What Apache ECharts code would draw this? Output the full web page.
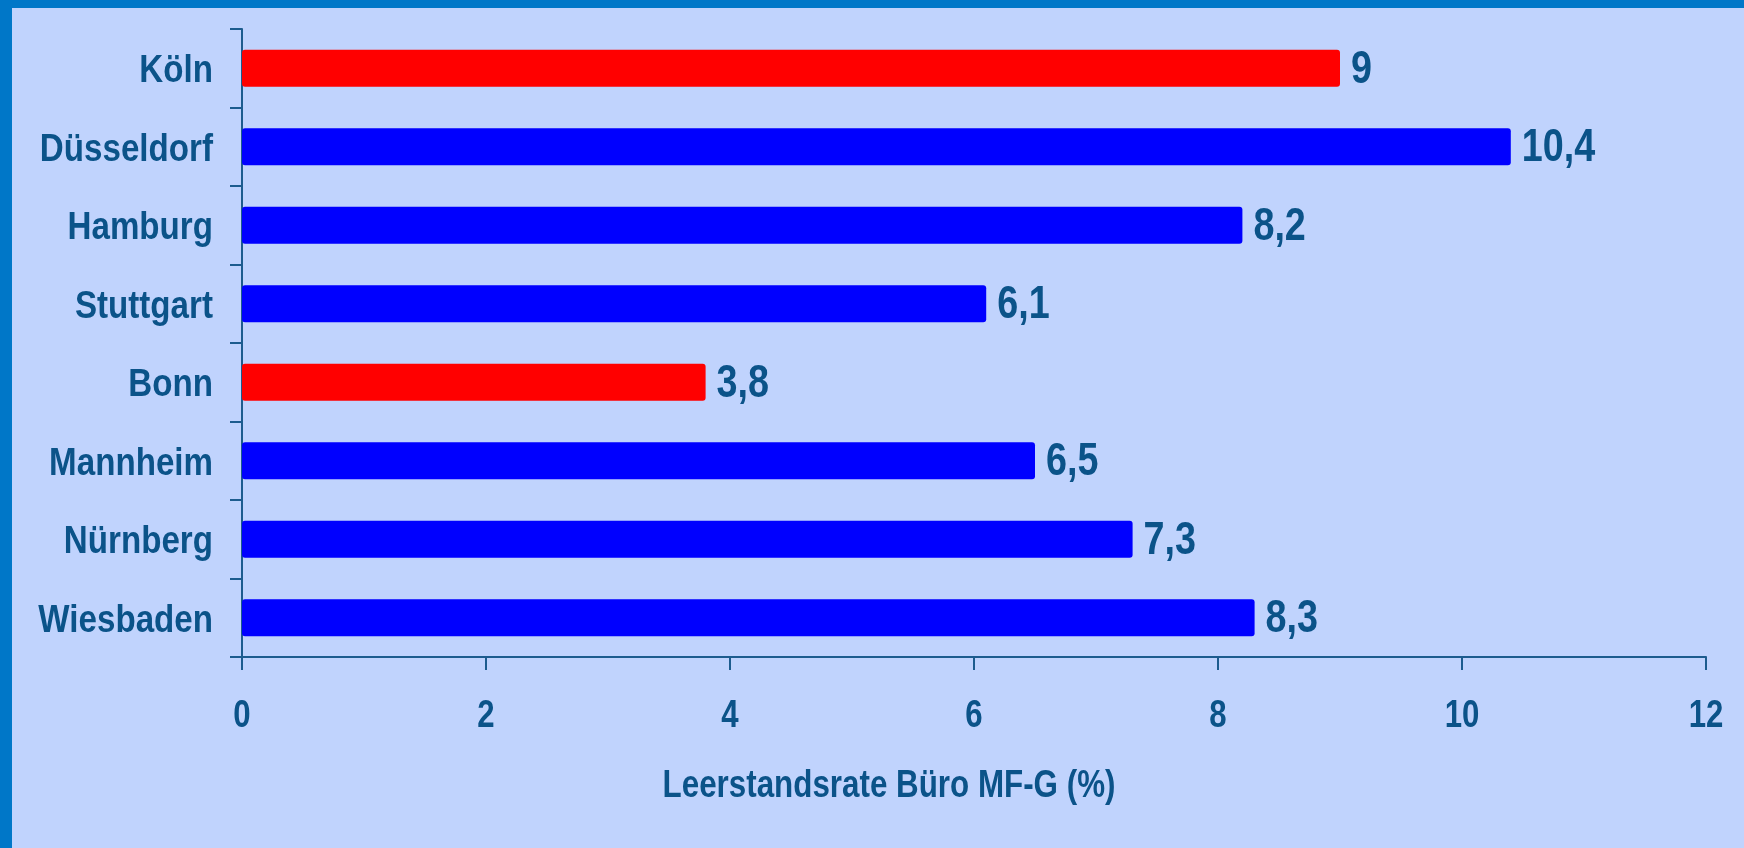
<!DOCTYPE html>
<html>
<head>
<meta charset="utf-8">
<title>Leerstandsrate Büro MF-G</title>
<script src="https://cdn.jsdelivr.net/npm/echarts@6/dist/echarts.min.js"></script>
<style>
  html, body { margin: 0; padding: 0; background: #c0d3fd; }
  #chart { width: 1744px; height: 848px; }
</style>
</head>
<body>
<div id="chart"></div>
<script>
// Office vacancy rate by city (%)
const cities = ['Köln', 'Düsseldorf', 'Hamburg', 'Stuttgart', 'Bonn', 'Mannheim', 'Nürnberg', 'Wiesbaden'];
const vacancyRates = [9, 10.4, 8.2, 6.1, 3.8, 6.5, 7.3, 8.3];
const highlightedCities = ['Köln', 'Bonn'];
const xTicks = [0, 2, 4, 6, 8, 10, 12];
const axisTitle = 'Leerstandsrate Büro MF-G (%)';

// Bold narrow lettering: Liberation Sans Bold squeezed horizontally
const FONT = '"Liberation Sans", Arial, sans-serif';
const TEXT = '#0b5389';
const AXIS = '#1d5c8e';

const chart = echarts.init(document.getElementById('chart'), null, { renderer: 'canvas' });

const barData = vacancyRates.map((v, i) => ({
  value: v,
  itemStyle: { color: highlightedCities.includes(cities[i]) ? '#ff0000' : '#0000ff' }
}));

const frame = [
  { type: 'rect', left: 0, top: 0, shape: { width: 1744, height: 8 }, style: { fill: '#0077c8' }, silent: true },
  { type: 'rect', left: 0, top: 0, shape: { width: 12, height: 848 }, style: { fill: '#0077c8' }, silent: true }
];

chart.setOption({
  backgroundColor: '#c0d3fd',
  animation: false,
  grid: { left: 242, right: 38, top: 29, bottom: 191, containLabel: false },
  xAxis: {
    type: 'value',
    min: xTicks[0],
    max: xTicks[xTicks.length - 1],
    interval: 2,
    splitLine: { show: false },
    axisLine: { show: true, lineStyle: { color: AXIS, width: 2 } },
    axisTick: { show: true, length: 13, lineStyle: { color: AXIS, width: 2 } },
    axisLabel: { show: false }
  },
  yAxis: {
    type: 'category',
    data: cities,
    inverse: true,
    axisLine: { show: true, lineStyle: { color: AXIS, width: 2 } },
    axisTick: { show: true, length: 12, lineStyle: { color: AXIS, width: 2 } },
    axisLabel: { show: false }
  },
  series: [{
    type: 'bar',
    data: barData,
    barWidth: 37,
    itemStyle: { borderRadius: 3 },
    label: { show: false }
  }]
});

// Text placed from the chart's own axes
function narrowText(x, y, text, size, align, squeeze) {
  return {
    type: 'text',
    x: x,
    y: y,
    scaleX: squeeze,
    silent: true,
    style: {
      text: text,
      fill: TEXT,
      font: 'bold ' + size + 'px ' + FONT,
      textAlign: align,
      textVerticalAlign: 'middle'
    }
  };
}

const rect = chart.getModel().getComponent('grid', 0).coordinateSystem.getRect();
const x0 = chart.convertToPixel({ xAxisIndex: 0 }, 0);
const texts = [];

cities.forEach((c, i) => {
  const y = chart.convertToPixel({ yAxisIndex: 0 }, c);
  texts.push(narrowText(x0 - 29, y + 3, c, 39, 'right', 0.85));
  const xv = chart.convertToPixel({ xAxisIndex: 0 }, vacancyRates[i]);
  texts.push(narrowText(xv + 11, y + 2, String(vacancyRates[i]).replace('.', ','), 46, 'left', 0.82));
});

xTicks.forEach(t => {
  const x = chart.convertToPixel({ xAxisIndex: 0 }, t);
  texts.push(narrowText(x, rect.y + rect.height + 60, String(t), 38, 'center', 0.82));
});

texts.push(narrowText(889, 787, axisTitle, 38, 'center', 0.825));

chart.setOption({ graphic: frame.concat(texts) });
</script>
</body>
</html>
